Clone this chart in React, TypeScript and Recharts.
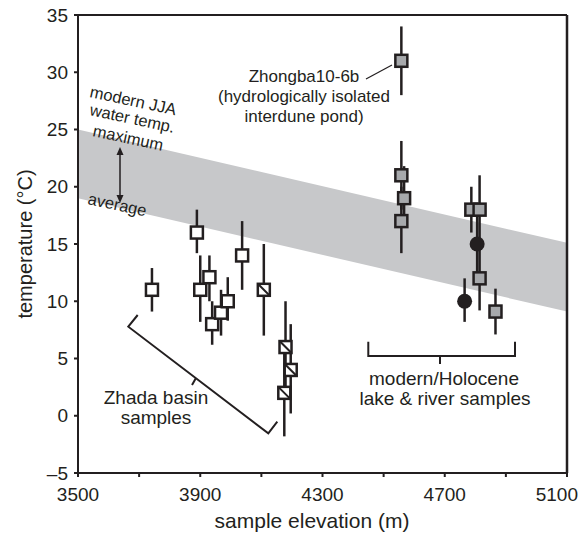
import React from 'react';
import { ComposedChart, Area, Scatter, ErrorBar, XAxis, YAxis, ReferenceLine } from 'recharts';

const INK = '#231f20';
const FONT = '"Liberation Sans", Arial, Helvetica, sans-serif';

// modern JJA water temperature band (average .. maximum)
const bandElev = [3500, 5100];
const bandAvg = [19, 9.1];
const bandMax = [25, 15.1];

// Zhada basin samples (open squares)
const zhadaElev = [3742, 3889, 3900, 3930, 3939, 3968, 3990, 4037];
const zhadaTemp = [11, 16, 11, 12.1, 8, 9, 10, 14];
const zhadaLo = [9.1, 14.2, 8.2, 10, 6.2, 7, 8.3, 11];
const zhadaHi = [12.9, 18, 14, 14, 10, 11, 12.1, 17];

// Zhada basin samples (squares with diagonal)
const hatchElev = [4108, 4179, 4196, 4175];
const hatchTemp = [11, 6, 4, 2];
const hatchLo = [7, 2, 0.2, -1.8];
const hatchHi = [15, 10, 8, 6];

// modern/Holocene lake & river samples (grey squares)
const lakeElev = [4558, 4558, 4567, 4558, 4787, 4814, 4814, 4866];
const lakeTemp = [31, 21, 19, 17, 18, 18, 12, 9.1];
const lakeLo = [28, 18, 16.5, 14.2, 16, 15, 9.2, 7.1];
const lakeHi = [34, 24, 21.8, 20, 20, 21, 15, 11.1];

// modern/Holocene samples (black circles)
const dotElev = [4806, 4765];
const dotTemp = [15, 10];
const dotLo = [12, 8.2];
const dotHi = [18, 12];

const xTicks = [3500, 3700, 3900, 4100, 4300, 4500, 4700, 4900, 5100];
const yTicks = [-5, 0, 5, 10, 15, 20, 25, 30, 35];

const rows = (el: number[], t: number[], lo: number[], hi: number[]) =>
  el.map((x, i) => ({ x, y: t[i], err: [t[i] - lo[i], hi[i] - t[i]] }));

const bandData = bandElev.map((x, i) => ({ x, band: [bandAvg[i], bandMax[i]] }));

const openSquare = (p: any) => (
  <rect x={p.cx - 6} y={p.cy - 6} width={12} height={12} fill="#fff" stroke={INK} strokeWidth={2.5} />
);
const hatchSquare = (p: any) => (
  <g>
    <rect x={p.cx - 6} y={p.cy - 6} width={12} height={12} fill="#fff" stroke={INK} strokeWidth={2.5} />
    <line x1={p.cx - 6} y1={p.cy - 6} x2={p.cx + 6} y2={p.cy + 6} stroke={INK} strokeWidth={2} />
  </g>
);
const greySquare = (p: any) => (
  <rect x={p.cx - 6} y={p.cy - 6} width={12} height={12} fill="#a7a9ac" stroke={INK} strokeWidth={2.5} />
);
const blackDot = (p: any) => <circle cx={p.cx} cy={p.cy} r={7.5} fill={INK} />;

const XTick = (props: any) => {
  const { x, y, payload } = props;
  const v = payload.value;
  if ((v - 3500) % 400 !== 0) return null;
  const last = v === 5100;
  return (
    <text x={last ? 578 : x} y={y} dy="0.71em" textAnchor={last ? 'end' : 'middle'}
      fill={INK} fontSize={19} fontFamily={FONT}>{v}</text>
  );
};

const errBar = <ErrorBar dataKey="err" direction="y" width={0} stroke={INK} strokeWidth={2.5} />;

export default function App() {
  return (
    <div style={{ position: 'relative', width: 579, height: 539 }}>
      <style>{'body{margin:0}'}</style>
      <ComposedChart width={579} height={539} data={bandData}
        margin={{ top: 15, right: 12, left: 0, bottom: 0 }}>
        <XAxis dataKey="x" type="number" domain={[3500, 5100]} ticks={xTicks} interval={0}
          allowDataOverflow height={66} tickSize={4} tickMargin={11}
          axisLine={{ stroke: INK, strokeWidth: 2 }} tickLine={{ stroke: INK, strokeWidth: 2 }}
          tick={<XTick />} />
        <YAxis dataKey="y" type="number" domain={[-5, 35]} ticks={yTicks} interval={0}
          allowDataOverflow width={78} tickSize={4} tickMargin={6}
          axisLine={{ stroke: INK, strokeWidth: 2 }} tickLine={{ stroke: INK, strokeWidth: 2 }}
          tickFormatter={(v: number) => (v < 0 ? `\u2013${-v}` : String(v))}
          tick={{ fill: INK, fontSize: 19, fontFamily: FONT }} />
        <Area dataKey="band" type="linear" fill="#c7c8ca" fillOpacity={1} stroke="none"
          dot={false} activeDot={false} isAnimationActive={false} />
        <ReferenceLine y={35} stroke={INK} strokeWidth={2} />
        <ReferenceLine x={5100} stroke={INK} strokeWidth={2.5} />
        <Scatter data={rows(zhadaElev, zhadaTemp, zhadaLo, zhadaHi)} shape={openSquare} isAnimationActive={false}>
          {errBar}
        </Scatter>
        <Scatter data={rows(hatchElev, hatchTemp, hatchLo, hatchHi)} shape={hatchSquare} isAnimationActive={false}>
          {errBar}
        </Scatter>
        <Scatter data={rows(lakeElev, lakeTemp, lakeLo, lakeHi)} shape={greySquare} isAnimationActive={false}>
          {errBar}
        </Scatter>
        <Scatter data={rows(dotElev, dotTemp, dotLo, dotHi)} shape={blackDot} isAnimationActive={false}>
          {errBar}
        </Scatter>
      </ComposedChart>

      {/* annotations */}
      <svg width={579} height={539} fontFamily={FONT} fill={INK}
        style={{ position: 'absolute', left: 0, top: 0, pointerEvents: 'none' }}>
        <text x={32} y={244} transform="rotate(-90 32 244)" textAnchor="middle" fontSize={20}>temperature (°C)</text>
        <text x={312} y={528} textAnchor="middle" fontSize={21}>sample elevation (m)</text>

        <g fontSize={16.5}>
          <text x={89} y={97} transform="rotate(12 89 97)">modern JJA</text>
          <text x={89} y={115} transform="rotate(12 89 115)">water temp.</text>
          <text x={92} y={136} transform="rotate(12 92 136)">maximum</text>
          <text x={87} y={204} transform="rotate(12 87 204)">average</text>
        </g>
        <line x1={120} y1={153} x2={120} y2={197} stroke={INK} strokeWidth={1.5} />
        <polygon points="120,147 116.5,155 123.5,155" />
        <polygon points="120,203 116.5,195 123.5,195" />

        <g fontSize={17} textAnchor="middle">
          <text x={304} y={82}>Zhongba10-6b</text>
          <text x={304} y={102}>(hydrologically isolated</text>
          <text x={304} y={122}>interdune pond)</text>
        </g>
        <line x1={366} y1={79} x2={392} y2={65} stroke={INK} strokeWidth={1.2} />

        <polyline points="137.7,315 128.3,326.7 268.3,433.3 277.3,421.7" fill="none" stroke={INK} strokeWidth={2} />
        <line x1={196} y1={378} x2={192} y2={385} stroke={INK} strokeWidth={2} />
        <g fontSize={19} textAnchor="middle">
          <text x={156} y={404}>Zhada basin</text>
          <text x={156} y={424}>samples</text>
        </g>

        <polyline points="368.3,341.7 368.3,356 515,356 515,341.7" fill="none" stroke={INK} strokeWidth={2} />
        <line x1={440} y1={356} x2={440} y2={364} stroke={INK} strokeWidth={2} />
        <g fontSize={19} textAnchor="middle">
          <text x={444} y={385}>modern/Holocene</text>
          <text x={445} y={405}>lake &amp; river samples</text>
        </g>
      </svg>
    </div>
  );
}
